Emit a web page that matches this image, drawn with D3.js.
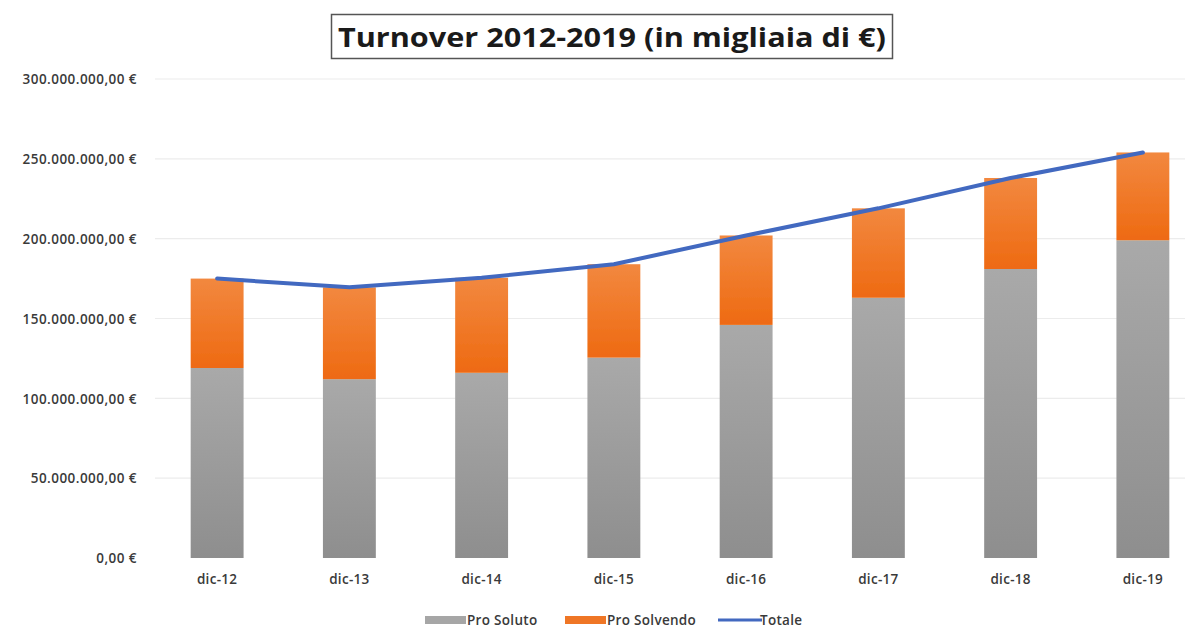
<!DOCTYPE html>
<html>
<head>
<meta charset="utf-8">
<script src="https://cdn.jsdelivr.net/npm/d3@7"></script>
<style>
  html, body { margin: 0; padding: 0; background: #fff; }
  svg { display: block; }
  text { font-family: "Open Sans", "Noto Sans", sans-serif; }
</style>
</head>
<body>
<svg id="chart" width="1195" height="628"></svg>
<script>
// Turnover per year, millions of euro
const categories = ["dic-12", "dic-13", "dic-14", "dic-15", "dic-16", "dic-17", "dic-18", "dic-19"];
const proSoluto   = [119, 112, 116, 125.5, 146, 163, 181, 199];
const proSolvendo = [56, 57.5, 59.5, 58.5, 56, 56, 57, 55];
const totale      = [175, 169.5, 175.5, 184, 202, 219, 238, 254];
const yTicks = [0, 50, 100, 150, 200, 250, 300];
const seriesNames = ["Pro Soluto", "Pro Solvendo", "Totale"];
const title = "Turnover 2012-2019 (in migliaia di €)";

const svg = d3.select("#chart");

const x = d3.scaleBand().domain(categories).range([151, 1209]).paddingInner(0.6).paddingOuter(0.3);
const y = d3.scaleLinear().domain([0, 300]).range([558, 79]);

// Gradients for the stacked bars
const defs = svg.append("defs");
const g1 = defs.append("linearGradient").attr("id", "gGray").attr("x1", 0).attr("y1", 0).attr("x2", 0).attr("y2", 1);
g1.append("stop").attr("offset", "0%").attr("stop-color", "#a9a9a9");
g1.append("stop").attr("offset", "100%").attr("stop-color", "#8e8e8e");
const g2 = defs.append("linearGradient").attr("id", "gOrange").attr("x1", 0).attr("y1", 0).attr("x2", 0).attr("y2", 1);
g2.append("stop").attr("offset", "0%").attr("stop-color", "#f2883f");
g2.append("stop").attr("offset", "100%").attr("stop-color", "#ee6a12");
const sh = defs.append("filter").attr("id", "soft").attr("x", "-10%").attr("y", "-10%").attr("width", "120%").attr("height", "120%");
sh.append("feGaussianBlur").attr("stdDeviation", 0.6);

const itEuro = v => d3.format(",.2f")(v * 1e6).replace(/,/g, "#").replace(".", ",").replace(/#/g, ".") + " €";

// Gridlines
svg.append("g").selectAll("line").data(yTicks.filter(d => d > 0)).join("line")
  .attr("x1", 155).attr("x2", 1185)
  .attr("y1", d => y(d)).attr("y2", d => y(d))
  .attr("stroke", "#ececec").attr("stroke-width", 1.2);

// Y axis labels
const yAxis = d3.axisLeft(y).tickValues(yTicks).tickSize(0).tickPadding(0).tickFormat(itEuro);
const ya = svg.append("g").attr("transform", "translate(137,0)").call(yAxis);
ya.select(".domain").remove();
ya.selectAll("text").attr("font-size", 13.5).attr("font-weight", 600).attr("letter-spacing", 0.45)
  .attr("fill", "#3a3a3a").attr("dy", "0.35em");

// X axis labels
const xAxis = d3.axisBottom(x).tickSize(0).tickPadding(0);
const xa = svg.append("g").attr("transform", "translate(0,579)").call(xAxis);
xa.select(".domain").remove();
xa.selectAll("text").attr("font-size", 13.5).attr("font-weight", 600).attr("letter-spacing", 0.3)
  .attr("fill", "#3a3a3a").attr("dy", "0.35em");

// Stacked bars
const rows = categories.map((c, i) => ({ cat: c, soluto: proSoluto[i], solvendo: proSolvendo[i] }));
const stack = d3.stack().keys(["soluto", "solvendo"])(rows);
const fills = ["url(#gGray)", "url(#gOrange)"];
stack.forEach((layer, li) => {
  svg.append("g").attr("filter", "url(#soft)").selectAll("rect").data(layer).join("rect")
    .attr("x", d => x(d.data.cat))
    .attr("width", x.bandwidth())
    .attr("y", d => y(d[1]))
    .attr("height", d => y(d[0]) - y(d[1]))
    .attr("fill", fills[li]);
});

// Total line
const line = d3.line().x((d, i) => x(categories[i]) + x.bandwidth() / 2).y(d => y(d));
svg.append("path").datum(totale)
  .attr("d", line)
  .attr("fill", "none")
  .attr("stroke", "#4269c0")
  .attr("stroke-width", 4)
  .attr("stroke-linecap", "round")
  .attr("stroke-linejoin", "round")
  .attr("filter", "url(#soft)");

// Title with frame
const tg = svg.append("g");
tg.append("rect").attr("x", 331.5).attr("y", 14.5).attr("width", 561).attr("height", 44)
  .attr("fill", "#fff").attr("stroke", "#555").attr("stroke-width", 1.5);
tg.append("text").attr("x", 612).attr("y", 47).attr("text-anchor", "middle")
  .attr("font-size", 27).attr("font-weight", "bold").attr("fill", "#1a1a1a")
  .attr("textLength", 548).attr("lengthAdjust", "spacingAndGlyphs")
  .text(title);

// Legend
const legend = svg.append("g").attr("transform", "translate(0,620)");
const items = [
  { name: seriesNames[0], x: 425, type: "rect", color: "#a6a6a6" },
  { name: seriesNames[1], x: 565, type: "rect", color: "#ef7625" },
  { name: seriesNames[2], x: 718, type: "line", color: "#4269c0" }
];
items.forEach(it => {
  if (it.type === "rect") {
    legend.append("rect").attr("x", it.x).attr("y", -4).attr("width", 41).attr("height", 8).attr("fill", it.color);
  } else {
    legend.append("line").attr("x1", it.x).attr("x2", it.x + 44).attr("y1", 0).attr("y2", 0)
      .attr("stroke", it.color).attr("stroke-width", 3);
  }
  legend.append("text").attr("x", it.x + 42).attr("y", 0).attr("dy", "0.35em")
    .attr("font-size", 13.5).attr("font-weight", 600).attr("letter-spacing", 0.3)
    .attr("fill", "#3a3a3a").text(it.name);
});
</script>
</body>
</html>
